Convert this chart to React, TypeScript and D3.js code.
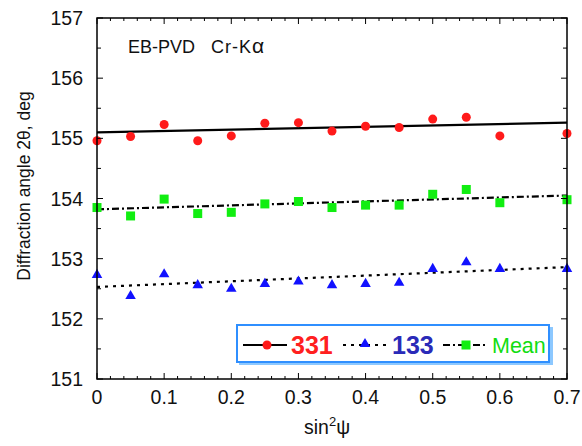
import React from "react";
import * as d3 from "d3";

const xs = [0, 0.05, 0.1, 0.15, 0.2, 0.25, 0.3, 0.35, 0.4, 0.45, 0.5, 0.55, 0.6, 0.7];
const s331 = [154.96, 155.03, 155.23, 154.96, 155.04, 155.25, 155.26, 155.12, 155.2, 155.18, 155.32, 155.35, 155.04, 155.08];
const s133 = [152.73, 152.38, 152.74, 152.56, 152.5, 152.58, 152.62, 152.56, 152.58, 152.6, 152.83, 152.94, 152.83, 152.83];
const sMean = [153.85, 153.71, 153.99, 153.75, 153.77, 153.91, 153.95, 153.85, 153.89, 153.89, 154.07, 154.15, 153.93, 153.98];
// fitted line values at x = 0 and x = 0.7
const fit331 = [155.1, 155.26];
const fit133 = [152.53, 152.86];
const fitMean = [153.82, 154.05];
const fitX = [0, 0.7];
const xTicks = [0, 0.1, 0.2, 0.3, 0.4, 0.5, 0.6, 0.7];
const yTicks = [151, 152, 153, 154, 155, 156, 157];

const W = 582, H = 446;
const L = 97, R = 567, T = 18, B = 379;
const FONT = "Helvetica, Arial, 'Liberation Sans', sans-serif";

export default function App() {
  const x = d3.scaleLinear().domain([0, 0.7]).range([L, R]);
  const y = d3.scaleLinear().domain([151, 157]).range([B, T]);
  const line = d3.line<number>().x((_, i) => x(fitX[i])).y((d) => y(d));
  const xMinor = d3.range(0, 0.7001, 0.02).filter((v) => Math.abs(v * 10 - Math.round(v * 10)) > 1e-6);
  const yMinor = d3.range(151.5, 157, 1);
  const tri = d3.symbol().type(d3.symbolTriangle).size(48)();
  return (
    <svg width={W} height={H} style={{ position: "absolute", left: 0, top: 0 }} fontFamily={FONT}>
      <rect x={0} y={0} width={W} height={H} fill="white" />
      {/* fit lines */}
      <path d={line(fit331) || ""} stroke="black" strokeWidth={2.2} fill="none" />
      <path d={line(fit133) || ""} stroke="black" strokeWidth={2.2} fill="none" strokeDasharray="3,5" />
      <path d={line(fitMean) || ""} stroke="black" strokeWidth={2.2} fill="none" strokeDasharray="7,3,2,3" />
      {/* points */}
      {xs.map((v, i) => (
        <circle key={"r" + i} cx={x(v)} cy={y(s331[i])} r={4.5} fill="#ff1a1a" />
      ))}
      {xs.map((v, i) => (
        <rect key={"g" + i} x={x(v) - 4.5} y={y(sMean[i]) - 4.5} width={9} height={9} fill="#11ee11" />
      ))}
      {xs.map((v, i) => (
        <path key={"b" + i} d={tri} transform={`translate(${x(v)},${y(s133[i])})`} fill="#1111ff" />
      ))}
      {/* frame */}
      <rect x={L} y={T} width={R - L} height={B - T} fill="none" stroke="black" strokeWidth={1.5} />
      {/* x ticks */}
      {xTicks.map((v) => (
        <g key={"xt" + v}>
          <line x1={x(v)} x2={x(v)} y1={B} y2={B - 6} stroke="black" strokeWidth={1} />
          <line x1={x(v)} x2={x(v)} y1={T} y2={T + 6} stroke="black" strokeWidth={1} />
          <text x={x(v)} y={B + 25} fontSize={19.5} textAnchor="middle" fill="#111">{v === 0 ? "0" : String(v)}</text>
        </g>
      ))}
      {xMinor.map((v) => (
        <g key={"xm" + v}>
          <line x1={x(v)} x2={x(v)} y1={B} y2={B - 3} stroke="black" strokeWidth={1} />
          <line x1={x(v)} x2={x(v)} y1={T} y2={T + 3} stroke="black" strokeWidth={1} />
        </g>
      ))}
      {yTicks.map((v) => (
        <g key={"yt" + v}>
          <line x1={L} x2={L + 6} y1={y(v)} y2={y(v)} stroke="black" strokeWidth={1} />
          <line x1={R} x2={R - 6} y1={y(v)} y2={y(v)} stroke="black" strokeWidth={1} />
          <text x={L - 14} y={y(v) + 7} fontSize={19.5} textAnchor="end" fill="#111">{v}</text>
        </g>
      ))}
      {yMinor.map((v) => (
        <g key={"ym" + v}>
          <line x1={L} x2={L + 4} y1={y(v)} y2={y(v)} stroke="black" strokeWidth={1} />
          <line x1={R} x2={R - 4} y1={y(v)} y2={y(v)} stroke="black" strokeWidth={1} />
        </g>
      ))}
      {/* labels */}
      <text x={128} y={53} fontSize={18} fill="#111">EB-PVD</text>
      <text x={211} y={53} fontSize={18} fill="#111" letterSpacing={1}>
        Cr-K<tspan fontSize={21}>α</tspan>
      </text>
      <text transform={`translate(30,186) rotate(-90)`} fontSize={17.5} textAnchor="middle" fill="#111">
        Diffraction angle 2θ, deg
      </text>
      <text x={327} y={434} fontSize={19.5} textAnchor="middle" fill="#111">
        sin<tspan dy={-8} fontSize={13}>2</tspan><tspan dy={8}>ψ</tspan>
      </text>
      {/* legend */}
      <g>
        <rect x={239} y={327} width={314} height={38} fill="#8cc8ff" />
        <rect x={237} y={325} width={312} height={37} fill="white" stroke="#2f8fff" strokeWidth={2} />
        <line x1={243} x2={287} y1={345} y2={345} stroke="black" strokeWidth={2.2} />
        <circle cx={267} cy={345} r={4.5} fill="#ff1a1a" />
        <text x={291} y={354} fontSize={25} fill="#ff2020" fontWeight="bold">331</text>
        <line x1={343} x2={387} y1={345} y2={345} stroke="black" strokeWidth={2.2} strokeDasharray="3,5" />
        <path d={tri} transform="translate(365,344)" fill="#1111ff" />
        <text x={392} y={354} fontSize={25} fill="#2a2ab8" fontWeight="bold">133</text>
        <line x1={443} x2={487} y1={345} y2={345} stroke="black" strokeWidth={2.2} strokeDasharray="7,3,2,3" />
        <rect x={461.5} y={340.5} width={9} height={9} fill="#11ee11" />
        <text x={492} y={353} fontSize={21.5} fill="#11dd11">Mean</text>
      </g>
    </svg>
  );
}
